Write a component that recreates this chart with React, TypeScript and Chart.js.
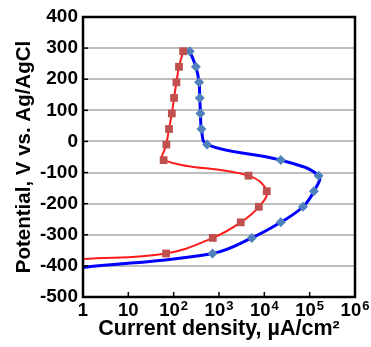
import React, { useEffect, useRef } from 'react';
import { Chart, registerables } from 'chart.js';

Chart.register(...registerables);

// Potential (mV vs Ag/AgCl) at each marker
const potentials = [290, 240, 190, 140, 90, 40, -10, -60, -110, -160, -210, -260, -310, -360];
// Red curve current density (µA/cm²)
const redCurrent = [162, 131, 115, 102, 91, 79, 69, 60, 4470, 11300, 7560, 3020, 730, 68];
// Blue curve current density (µA/cm²)
const blueCurrent = [226, 309, 363, 376, 390, 410, 545, 23000, 157000, 124000, 71000, 23000, 5300, 720];
// Where each curve leaves the plot at the left edge
const tailCurrent = 1;
const redTailPotential = -378;
const blueTailPotential = -405;

const xTickValues = [1, 10, 100, 1000, 10000, 100000, 1000000];
const xTickBase = ['1', '10', '10', '10', '10', '10', '10'];
const xTickExp = ['', '', '2', '3', '4', '5', '6'];

const FONT = "'Liberation Sans', Arial, Helvetica, sans-serif";

export default function App() {
  const ref = useRef<HTMLCanvasElement>(null);

  useEffect(() => {
    const canvas = ref.current;
    if (!canvas) return;

    const framePlugin = {
      id: 'frame',
      afterDatasetsDraw(chart: any) {
        const { ctx, chartArea: a, scales } = chart;
        ctx.save();
        ctx.strokeStyle = '#000';
        ctx.lineWidth = 1.5;
        xTickValues.forEach((v) => {
          const px = scales.x.getPixelForValue(v);
          ctx.beginPath();
          ctx.moveTo(px, a.bottom);
          ctx.lineTo(px, a.bottom - 5);
          ctx.stroke();
        });
        scales.y.ticks.forEach((t: any) => {
          const py = scales.y.getPixelForValue(t.value);
          ctx.beginPath();
          ctx.moveTo(a.left, py);
          ctx.lineTo(a.left + 5, py);
          ctx.stroke();
        });
        ctx.lineWidth = 2.5;
        ctx.strokeRect(a.left, a.top, a.right - a.left, a.bottom - a.top);
        ctx.restore();
      },
      afterDraw(chart: any) {
        const { ctx, chartArea: a, scales } = chart;
        ctx.save();
        ctx.fillStyle = '#000';
        ctx.textBaseline = 'alphabetic';
        ctx.textAlign = 'left';
        const baseFont = `bold 18.5px ${FONT}`;
        const expFont = `bold 13px ${FONT}`;
        const baseY = a.bottom + 19;
        xTickValues.forEach((v, i) => {
          const px = scales.x.getPixelForValue(v);
          ctx.font = baseFont;
          const wb = ctx.measureText(xTickBase[i]).width;
          ctx.font = expFont;
          const we = xTickExp[i] ? ctx.measureText(xTickExp[i]).width + 1 : 0;
          const x0 = px - (wb + we) / 2;
          ctx.font = baseFont;
          ctx.fillText(xTickBase[i], x0, baseY);
          if (xTickExp[i]) {
            ctx.font = expFont;
            ctx.fillText(xTickExp[i], x0 + wb + 1, baseY - 6.5);
          }
        });
        ctx.restore();
      },
    };

    const redData = redCurrent.map((c, i) => ({ x: c, y: potentials[i] }));
    redData.push({ x: tailCurrent, y: redTailPotential });
    const blueData = blueCurrent.map((c, i) => ({ x: c, y: potentials[i] }));
    blueData.push({ x: tailCurrent, y: blueTailPotential });

    const tickFont = { family: FONT, size: 19, weight: 'bold' as const };

    const chart = new Chart(canvas, {
      type: 'scatter',
      data: {
        datasets: [
          {
            label: 'red',
            data: redData,
            showLine: true,
            borderColor: '#ff1a1a',
            borderWidth: 2,
            tension: 0.4,
            pointStyle: 'rect',
            pointRadius: redData.map((_, i) => (i < potentials.length ? 5.5 : 0)),
            pointBackgroundColor: '#C0504D',
            pointBorderColor: '#C0504D',
            pointBorderWidth: 0,
          },
          {
            label: 'blue',
            data: blueData,
            showLine: true,
            borderColor: '#0000ff',
            borderWidth: 3,
            tension: 0.4,
            pointStyle: 'rectRot',
            pointRadius: blueData.map((_, i) => (i < potentials.length ? 5 : 0)),
            pointBackgroundColor: '#4F81BD',
            pointBorderColor: '#4F81BD',
            pointBorderWidth: 0,
          },
        ],
      },
      options: {
        responsive: false,
        animation: false,
        layout: { padding: { top: 17, right: 16, left: 0, bottom: 0 } },
        plugins: { legend: { display: false }, tooltip: { enabled: false } },
        scales: {
          x: {
            type: 'logarithmic',
            position: 'bottom',
            min: 1,
            max: 1000000,
            afterBuildTicks: (s: any) => {
              s.ticks = xTickValues.map((v) => ({ value: v }));
            },
            afterFit: (s: any) => {
              s.height = 50;
            },
            ticks: { display: false },
            grid: { display: false, drawTicks: false },
            border: { display: false },
            title: {
              display: true,
              text: 'Current density, µA/cm²',
              color: '#000',
              font: { family: FONT, size: 21.5, weight: 'bold' as const },
              padding: { top: 0, bottom: 5 },
            },
          },
          y: {
            type: 'linear',
            min: -500,
            max: 400,
            afterFit: (s: any) => {
              s.width = 83;
            },
            ticks: {
              stepSize: 100,
              padding: 5,
              color: '#000',
              font: tickFont,
            },
            grid: { color: '#bfbfbf', lineWidth: 2, drawTicks: false },
            border: { display: false },
            title: {
              display: true,
              text: 'Potential, V vs. Ag/AgCl',
              color: '#000',
              font: { family: FONT, size: 20.5, weight: 'bold' as const },
              padding: { top: 12, bottom: 0 },
            },
          },
        },
      },
      plugins: [framePlugin],
    });

    return () => chart.destroy();
  }, []);

  return (
    <div style={{ position: 'absolute', left: 0, top: 0, width: 371, height: 347, background: '#fff' }}>
      <canvas ref={ref} width={371} height={347} style={{ display: 'block' }} />
    </div>
  );
}
